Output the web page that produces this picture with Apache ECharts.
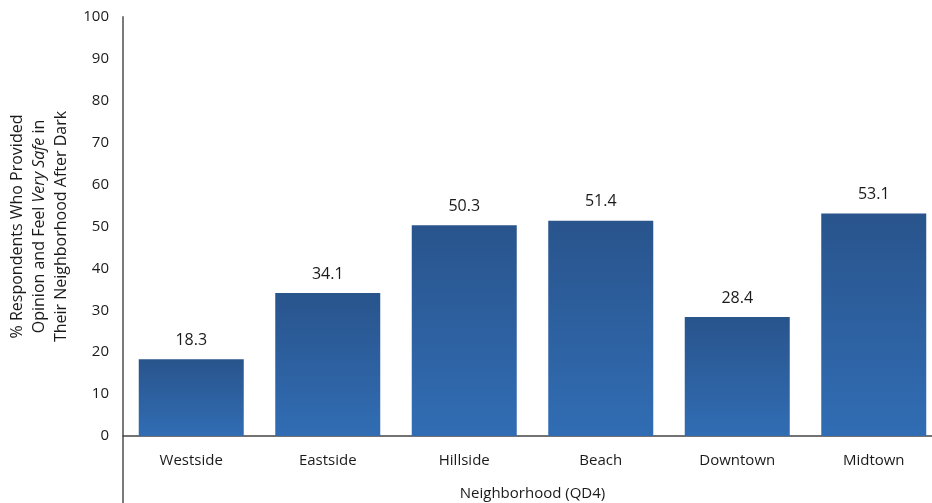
<!DOCTYPE html>
<html>
<head>
<meta charset="utf-8">
<script src="https://cdn.jsdelivr.net/npm/echarts@6/dist/echarts.min.js"></script>
<style>
  html, body { margin: 0; padding: 0; background: #fff; }
  #chart { width: 932px; height: 503px; }
</style>
</head>
<body>
<div id="chart"></div>
<script>
// Neighbourhoods surveyed (QD4) and share feeling very safe after dark
const neighborhoods = ['Westside', 'Eastside', 'Hillside', 'Beach', 'Downtown', 'Midtown'];
const verySafePct = [18.3, 34.1, 50.3, 51.4, 28.4, 53.1];
const yTicks = [0, 10, 20, 30, 40, 50, 60, 70, 80, 90, 100];

const FONT = '"Open Sans", "DejaVu Sans", sans-serif';
const chart = echarts.init(document.getElementById('chart'));

chart.setOption({
  animation: false,
  grid: { left: 123, right: -10, top: 17, bottom: 67, containLabel: false, outerBoundsMode: 'none' },
  xAxis: {
    type: 'category',
    data: neighborhoods,
    name: 'Neighborhood (QD4)',
    nameLocation: 'middle',
    nameGap: 50,
    nameTextStyle: { fontFamily: FONT, fontSize: 15, color: '#1a1a1a' },
    axisLine: { show: true, lineStyle: { color: '#444', width: 1.5 } },
    axisTick: { show: false },
    axisLabel: { fontFamily: FONT, fontSize: 15, color: '#1a1a1a', margin: 17 }
  },
  yAxis: {
    type: 'value',
    min: yTicks[0],
    max: yTicks[yTicks.length - 1],
    interval: 10,
    name: '% Respondents Who Provided\nOpinion and Feel {i|Very Safe} in\nTheir Neighborhood After Dark',
    nameLocation: 'middle',
    nameGap: 50,
    nameRotate: 90,
    nameTextStyle: {
      fontFamily: FONT, fontSize: 16, color: '#1a1a1a', lineHeight: 22,
      rich: { i: { fontFamily: FONT, fontSize: 16, fontStyle: 'italic', color: '#1a1a1a' } }
    },
    axisLine: { show: true, lineStyle: { color: '#7a7a7a', width: 2 } },
    axisTick: { show: false },
    splitLine: { show: false },
    axisLabel: { fontFamily: FONT, fontSize: 15, color: '#1a1a1a', margin: 14 }
  },
  series: [{
    type: 'bar',
    data: verySafePct,
    barWidth: 105,
    itemStyle: {
      color: new echarts.graphic.LinearGradient(0, 0, 0, 1, [
        { offset: 0, color: '#29548c' },
        { offset: 1, color: '#316db4' }
      ])
    },
    label: {
      show: true,
      position: 'top',
      distance: 11,
      fontFamily: FONT,
      fontSize: 16,
      color: '#1a1a1a',
      formatter: p => p.value.toFixed(1)
    }
  }],
  graphic: [{
    // vertical axis continues below the category baseline
    type: 'line',
    shape: { x1: 123, y1: 436, x2: 123, y2: 503 },
    style: { stroke: '#7a7a7a', lineWidth: 2 }
  }]
});
</script>
</body>
</html>
